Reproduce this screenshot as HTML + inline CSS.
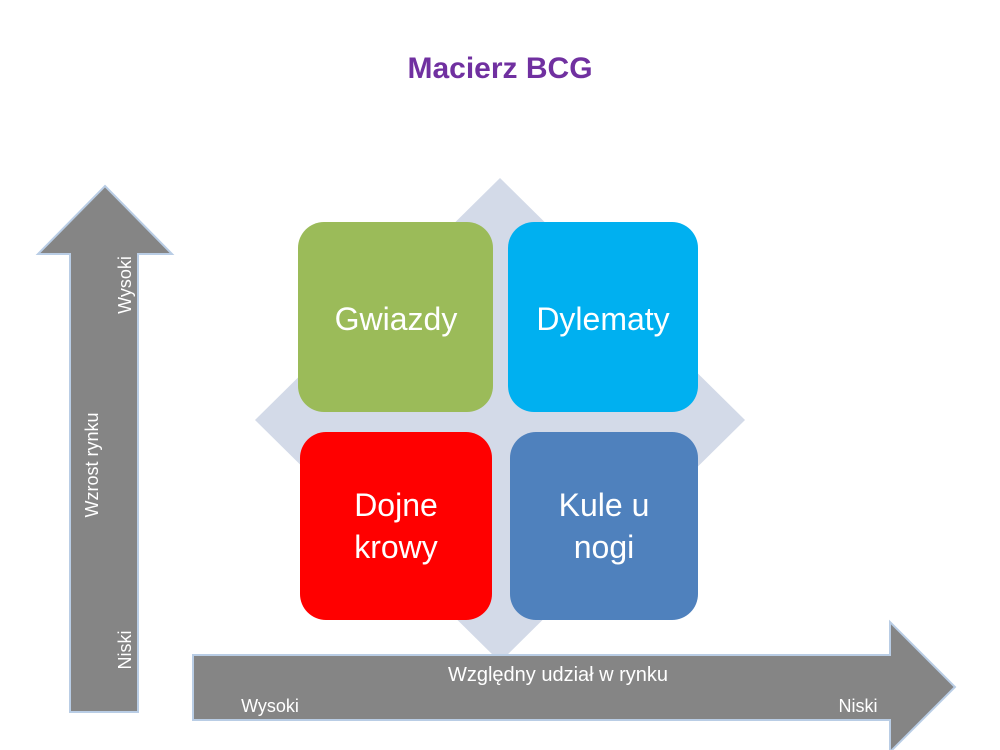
<!DOCTYPE html>
<html><head><meta charset="utf-8"><style>
html,body{margin:0;padding:0;background:#fff;}
svg{display:block;}
text{font-family:"Liberation Sans",sans-serif;}
</style></head><body>
<svg width="1000" height="750" viewBox="0 0 1000 750" xmlns="http://www.w3.org/2000/svg">
<rect width="1000" height="750" fill="#fff"/>
<text x="500" y="78" text-anchor="middle" font-size="30" font-weight="bold" fill="#7030A0">Macierz BCG</text>
<polygon points="500,178 745,420 500,662 255,420" fill="#D3DAE8"/>
<rect x="298" y="222" width="195" height="190" rx="26" fill="#9BBB59"/>
<rect x="508" y="222" width="190" height="190" rx="26" fill="#00B0F0"/>
<rect x="300" y="432" width="192" height="188" rx="26" fill="#FF0000"/>
<rect x="510" y="432" width="188" height="188" rx="26" fill="#4F81BD"/>
<g fill="#fff" font-size="32" text-anchor="middle">
<text x="396" y="330">Gwiazdy</text>
<text x="603" y="330">Dylematy</text>
<text x="396" y="516">Dojne</text>
<text x="396" y="558">krowy</text>
<text x="604" y="516">Kule u</text>
<text x="604" y="558">nogi</text>
</g>
<polygon points="105,186 172,254 138,254 138,712 70,712 70,254 38,254" fill="#858585" stroke="#B9CDE5" stroke-width="2"/>
<polygon points="193,655 890,655 890,622 955,687 890,752 890,720 193,720" fill="#858585" stroke="#B9CDE5" stroke-width="2"/>
<g fill="#fff" font-size="18">
<text transform="translate(131,285) rotate(-90)" text-anchor="middle">Wysoki</text>
<text transform="translate(98,465) rotate(-90)" text-anchor="middle">Wzrost rynku</text>
<text transform="translate(131,650) rotate(-90)" text-anchor="middle">Niski</text>
<text x="558" y="681" text-anchor="middle" font-size="20">Względny udział w rynku</text>
<text x="270" y="712" text-anchor="middle">Wysoki</text>
<text x="858" y="712" text-anchor="middle">Niski</text>
</g>
</svg>
</body></html>
